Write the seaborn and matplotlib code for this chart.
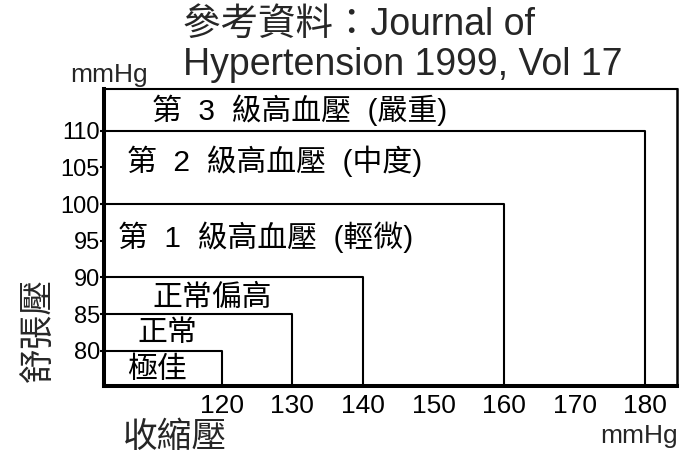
import matplotlib
matplotlib.use("Agg")
import matplotlib.pyplot as plt
import pandas as pd
import seaborn as sns

# Blood-pressure classification (systolic / diastolic upper limits, mmHg)
categories = ["極佳", "正常", "正常偏高", "第  1  級高血壓  (輕微)", "第  2  級高血壓  (中度)"]
systolic_limits = [120, 130, 140, 160, 180]
diastolic_limits = [80, 85, 90, 100, 110]
top_category = "第  3  級高血壓  (嚴重)"

x_ticks = [120, 130, 140, 150, 160, 170, 180]
y_ticks = [80, 85, 90, 95, 100, 105, 110]

# Label anchor points inside each zone (data units)
label_x = [106.6, 108.0, 110.1, 105.3, 106.6]
label_y = [77.4, 82.4, 87.2, 95.5, 105.9]
top_label_xy = (110.1, 112.8)

W, H = 698, 455
sns.set_theme(style="white")
plt.rcParams["font.family"] = ["Liberation Sans", "Noto Sans CJK TC", "DejaVu Sans"]
CJK = ["Noto Sans CJK TC", "Liberation Sans", "DejaVu Sans"]
MIXED = ["Liberation Sans", "Noto Sans CJK TC", "DejaVu Sans"]

fig = plt.figure(figsize=(W / 100, H / 100), dpi=100)
fig.patch.set_facecolor("white")
ax = fig.add_axes([104 / W, 1 - 386 / H, 573 / W, 297 / H])
ax.set_facecolor("white")

x_lo, x_hi = 103.3, 184.5
y_lo, y_hi = 75.2, 115.7
ax.set_xlim(x_lo, x_hi)
ax.set_ylim(y_lo, y_hi)

# Each zone is outlined by its upper diastolic edge and right systolic edge
rows = []
for cat, s, d in zip(categories, systolic_limits, diastolic_limits):
    rows += [
        {"zone": cat, "order": 0, "x": x_lo, "y": d},
        {"zone": cat, "order": 1, "x": s, "y": d},
        {"zone": cat, "order": 2, "x": s, "y": y_lo},
    ]
outline = pd.DataFrame(rows)
sns.lineplot(data=outline, x="x", y="y", units="zone", estimator=None,
             sort=False, color="black", linewidth=1.5, ax=ax, legend=False)

for name, lx, ly in zip(categories, label_x, label_y):
    ax.text(lx, ly, name, fontsize=21.5, va="center", ha="left",
            family=MIXED, color="black")
ax.text(top_label_xy[0], top_label_xy[1], top_category, fontsize=21.5,
        va="center", ha="left", family=MIXED, color="black")

# Frame: heavy axes on left/bottom, light border on top/right
for side, lw in (("left", 2.9), ("bottom", 2.9), ("top", 1.5), ("right", 1.8)):
    ax.spines[side].set_visible(True)
    ax.spines[side].set_color("black")
    ax.spines[side].set_linewidth(lw)

ax.set_xticks(x_ticks)
ax.set_xticklabels([str(v) for v in x_ticks])
ax.set_yticks(y_ticks)
ax.set_yticklabels([str(v) for v in y_ticks])
ax.tick_params(axis="x", length=0, pad=6, labelsize=19, colors="black")
ax.tick_params(axis="y", length=3, width=1.5, pad=0, labelsize=17,
               colors="black", left=True, direction="out")
ax.set_xlabel("")
ax.set_ylabel("")


def fx(px):
    return px / W


def fy(py):
    return 1 - py / H


# Title
fig.text(fx(183), fy(35), "參考資料：Journal of", fontsize=27, family=MIXED,
         va="baseline", ha="left")
fig.text(fx(183), fy(75), "Hypertension 1999, Vol 17", fontsize=27,
         va="baseline", ha="left")

# Units and axis names
fig.text(fx(70), fy(82), "mmHg", fontsize=19, va="baseline", ha="left")
fig.text(fx(678), fy(443), "mmHg", fontsize=19, va="baseline", ha="right")
fig.text(fx(175), fy(437), "收縮壓", fontsize=25, family=CJK,
         va="center", ha="center")
fig.text(fx(39), fy(330), "舒張壓", fontsize=25, family=CJK,
         va="center", ha="center", rotation=90)

fig.savefig("out.png", dpi=100, facecolor="white")
